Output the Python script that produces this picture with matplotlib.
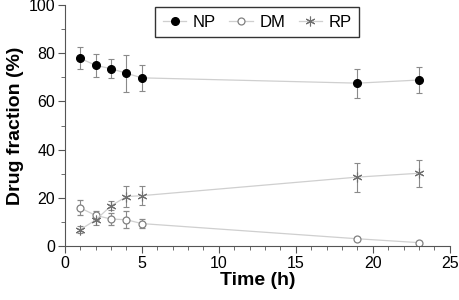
import numpy as np
import matplotlib.pyplot as plt
from matplotlib.ticker import MultipleLocator

plt.rcParams['font.family'] = ['Liberation Sans', 'DejaVu Sans']

# Time points (h)
time = [1, 2, 3, 4, 5, 19, 23]

# Drug fractions (%) and standard deviations
np_mean = [77.9, 75.0, 73.6, 71.7, 69.8, 67.6, 68.9]
np_err = [4.6, 4.7, 3.9, 7.6, 5.5, 6.0, 5.5]
dm_mean = [15.8, 12.7, 11.2, 10.9, 9.3, 3.0, 1.4]
dm_err = [3.1, 2.0, 2.3, 3.5, 2.0, 0.8, 0.5]
rp_mean = [6.8, 10.8, 16.7, 20.5, 20.9, 28.6, 30.2]
rp_err = [1.5, 2.0, 1.8, 4.3, 3.8, 6.0, 5.7]

fig = plt.figure(figsize=(4.6, 3.0), dpi=100)
ax = fig.add_axes([0.141, 0.18, 0.837, 0.803])

line_c = '#cfcfcf'
err_c = '#8a8a8a'

ax.errorbar(time, np_mean, yerr=np_err, color=line_c, ecolor=err_c, elinewidth=0.8,
            capsize=2, capthick=0.8, lw=0.9, marker='o', ms=5.5,
            mfc='black', mec='black', label='NP')
ax.errorbar(time, dm_mean, yerr=dm_err, color=line_c, ecolor=err_c, elinewidth=0.8,
            capsize=2, capthick=0.8, lw=0.9, marker='o', ms=5,
            mfc='white', mec='#808080', mew=0.9, label='DM')
ax.errorbar(time, rp_mean, yerr=rp_err, color=line_c, ecolor=err_c, elinewidth=0.8,
            capsize=2, capthick=0.8, lw=0.9, marker=(6, 2, 0), ms=7,
            mec='#707070', mew=0.8, label='RP')

ax.set_xlim(0, 25)
ax.set_ylim(0, 100)
ax.xaxis.set_major_locator(MultipleLocator(5))
ax.xaxis.set_minor_locator(MultipleLocator(1))
ax.yaxis.set_major_locator(MultipleLocator(20))
ax.yaxis.set_minor_locator(MultipleLocator(10))
ax.tick_params(which='major', length=5, labelsize=11.5, color='#555555', pad=2)
ax.tick_params(which='minor', length=3, color='#555555')
for s in ['top', 'right']:
    ax.spines[s].set_visible(False)
for s in ['left', 'bottom']:
    ax.spines[s].set_color('#555555')

ax.set_xlabel('Time (h)', fontsize=14, fontweight='bold', labelpad=1)
ax.set_ylabel('Drug fraction (%)', fontsize=14, fontweight='bold', labelpad=3)

handles, labels = ax.get_legend_handles_labels()
handles = [h[0] for h in handles]
leg = ax.legend(handles, labels, ncol=3, loc='upper center', bbox_to_anchor=(0.5, 1.005),
                fontsize=12, frameon=True, fancybox=False, edgecolor='black',
                handlelength=1.4, handletextpad=0.4, columnspacing=0.8,
                borderpad=0.45, borderaxespad=0.2)
leg.get_frame().set_linewidth(1.0)

fig.savefig('out.png', dpi=100)
